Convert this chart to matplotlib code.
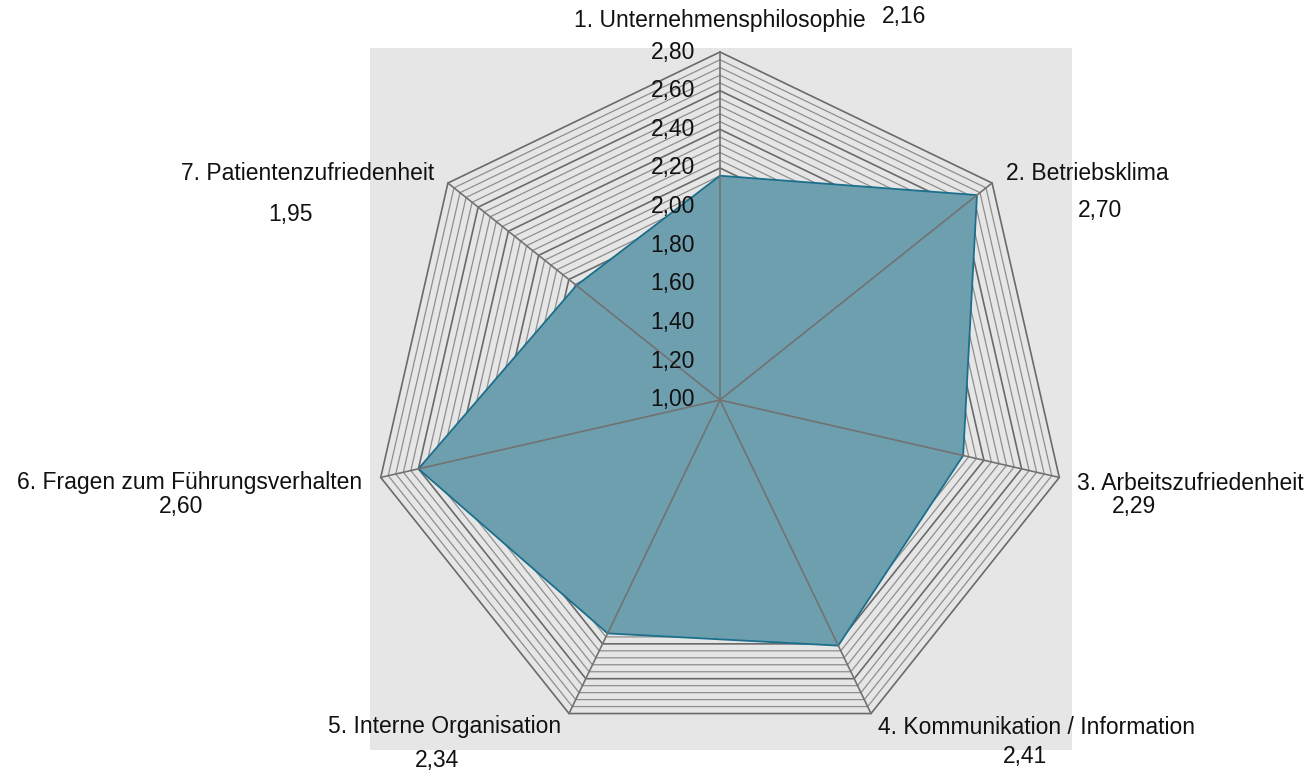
import numpy as np
import matplotlib
matplotlib.use("Agg")
import matplotlib.pyplot as plt

plt.rcParams['font.family'] = ['Liberation Sans', 'DejaVu Sans']

categories = ["1. Unternehmensphilosophie", "2. Betriebsklima", "3. Arbeitszufriedenheit",
              "4. Kommunikation / Information", "5. Interne Organisation",
              "6. Fragen zum Führungsverhalten", "7. Patientenzufriedenheit"]
values = [2.16, 2.70, 2.29, 2.41, 2.34, 2.60, 1.95]
r_min, r_max = 1.00, 2.80
major_ticks = [1.00, 1.20, 1.40, 1.60, 1.80, 2.00, 2.20, 2.40, 2.60, 2.80]
minor_step = 0.04

W, H = 1315, 774
fig = plt.figure(figsize=(W / 100, H / 100), dpi=100)

def fx(x):
    return x / W

def fy(y):
    return 1 - y / H

# axes box = grey square
ax = fig.add_axes([fx(370), fy(750), (1072 - 370) / W, (750 - 48) / H])
ax.set_facecolor('#e6e6e6')
span = r_max - r_min
scale = span / 348.0  # data units per pixel
ax.set_xlim(-350 * scale, 352 * scale)
ax.set_ylim(-350 * scale, 352 * scale)
for s in ax.spines.values():
    s.set_visible(False)
ax.set_xticks([])
ax.set_yticks([])

n = len(categories)
ang = np.pi / 2 - np.arange(n) * 2 * np.pi / n

def ring(r):
    rr = r - r_min
    xs = np.append(rr * np.cos(ang), rr * np.cos(ang[0]))
    ys = np.append(rr * np.sin(ang), rr * np.sin(ang[0]))
    return xs, ys

# grid rings
levels = np.round(np.arange(r_min + minor_step, r_max + 1e-9, minor_step), 2)
for lv in levels:
    xs, ys = ring(lv)
    is_major = any(abs(lv - m) < 1e-6 for m in major_ticks)
    ax.plot(xs, ys, color='#6a6a6a' if is_major else '#8e8e8e',
            lw=1.2 if is_major else 0.9, zorder=1)

# data polygon
xs, ys = ring(0)
vals = np.array(values)
px = (vals - r_min) * np.cos(ang)
py = (vals - r_min) * np.sin(ang)
ax.fill(px, py, facecolor='#6e9fae', edgecolor='#1b6f8c', lw=1.3, zorder=2)

# spokes
for a in ang:
    ax.plot([0, span * np.cos(a)], [0, span * np.sin(a)], color='#727272', lw=1.2, zorder=3)

# tick labels along top spoke
for t in major_ticks:
    ax.annotate(f"{t:.2f}".replace('.', ','), xy=(0, t - r_min), xytext=(-18, 0),
                textcoords='offset points', ha='right', va='center',
                fontsize=16.5, color='#111111', zorder=4)

# category + value labels (pixel centres)
label_pos = [(720, 20), (1087, 173), (1190, 483), (1037, 727), (445, 727), (190, 483), (308, 173)]
value_pos = [(904, 17), (1100, 210), (1134, 507), (1025, 757), (437, 760), (181, 507), (290, 214)]
for name, v, (lx, ly), (vx, vy) in zip(categories, values, label_pos, value_pos):
    fig.text(fx(lx), fy(ly), name, ha='center', va='center', fontsize=16.5, color='#111111')
    fig.text(fx(vx), fy(vy), f"{v:.2f}".replace('.', ','), ha='center', va='center',
             fontsize=16.5, color='#111111')

fig.savefig('out.png', dpi=100)
